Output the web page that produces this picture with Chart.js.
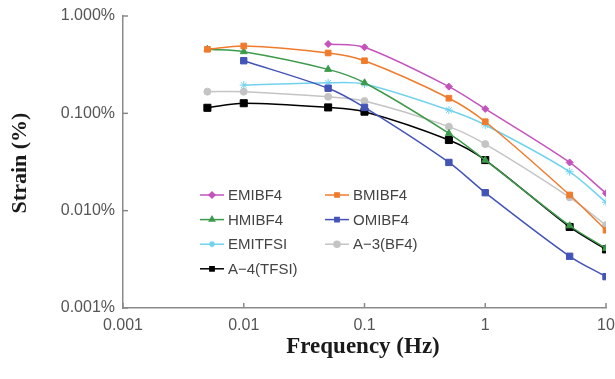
<!DOCTYPE html>
<html>
<head>
<meta charset="utf-8">
<script src="https://cdn.jsdelivr.net/npm/chart.js@4/dist/chart.umd.min.js"></script>
<style>
  html, body { margin: 0; padding: 0; background: #fff; }
  #wrap { width: 615px; height: 379px; }
</style>
</head>
<body>
<div id="wrap"><canvas id="myChart" width="615" height="379"></canvas></div>
<script>
// frequencies (Hz) and strain (%)
const frequencies = [0.005, 0.01, 0.05, 0.1, 0.5, 1, 5, 10];

const emibf4  = [null, null, 0.515, 0.477, 0.188, 0.111, 0.0313, 0.0151];
const bmibf4  = [0.455, 0.492, 0.417, 0.347, 0.143, 0.082, 0.0145, 0.0063];
const hmibf4  = [0.455, 0.43, 0.283, 0.206, 0.0622, 0.033, 0.0070, 0.0041];
const omibf4  = [null, 0.347, 0.181, 0.115, 0.0313, 0.0153, 0.0034, 0.0021];
const emitfsi = [null, 0.195, 0.206, 0.200, 0.108, 0.0759, 0.0251, 0.0122];
const a3bf4   = [0.167, 0.167, 0.148, 0.134, 0.073, 0.0483, 0.0137, 0.0071];
const a4tfsi  = [0.114, 0.127, 0.115, 0.104, 0.0532, 0.0331, 0.0068, 0.0040];

const xTickValues = [0.001, 0.01, 0.1, 1, 10];
const xTickLabels = ['0.001', '0.01', '0.1', '1', '10'];
const yTickValues = [0.001, 0.01, 0.1, 1];
const yTickLabels = ['0.001%', '0.010%', '0.100%', '1.000%'];

function toPoints(values) {
    return frequencies.map((f, i) => ({ x: f, y: values[i] })).filter(p => p.y !== null);
}

function series(label, values, color, style, radius) {
    return {
        label: label,
        data: toPoints(values),
        borderColor: color,
        backgroundColor: color,
        pointStyle: style,
        pointRadius: radius,
        pointBorderWidth: 1,
        borderWidth: 1.5,
        tension: 0.3,
        fill: false
    };
}

const datasets = [
    series('EMIBF4', emibf4, '#c553bd', 'rectRot', 3.5),
    series('BMIBF4', bmibf4, '#f07b2c', 'rect', 4),
    series('HMIBF4', hmibf4, '#3d9a4b', 'triangle', 4),
    series('OMIBF4', omibf4, '#4354b6', 'rect', 4.5),
    series('EMITFSI', emitfsi, '#72d2ee', 'star', 4),
    series('A\u22123(BF4)', a3bf4, '#c4c4c4', 'circle', 3.5),
    series('A\u22124(TFSI)', a4tfsi, '#000000', 'rect', 5)
];

// inward ticks, axis titles and the two-column legend
const decorations = {
    id: 'decorations',
    afterDraw(chart) {
        const ctx = chart.ctx;
        const area = chart.chartArea;
        const xs = chart.scales.x;
        const ys = chart.scales.y;
        ctx.save();
        ctx.strokeStyle = '#8a8a8a';
        ctx.lineWidth = 1.5;
        xTickValues.forEach(v => {
            const px = xs.getPixelForValue(v);
            ctx.beginPath();
            ctx.moveTo(px, area.bottom);
            ctx.lineTo(px, area.bottom - 5);
            ctx.stroke();
        });
        yTickValues.forEach(v => {
            const py = ys.getPixelForValue(v);
            ctx.beginPath();
            ctx.moveTo(area.left, py);
            ctx.lineTo(area.left + 5, py);
            ctx.stroke();
        });

        ctx.fillStyle = '#1a1a1a';
        ctx.textAlign = 'center';
        ctx.textBaseline = 'middle';
        ctx.font = 'bold 23px "Liberation Serif"';
        ctx.fillText('Frequency (Hz)', 363, 347);
        ctx.font = 'bold 22px "Liberation Serif"';
        ctx.translate(20, 163);
        ctx.rotate(-Math.PI / 2);
        ctx.fillText('Strain (%)', 0, 0);
        ctx.restore();

        // legend
        ctx.save();
        ctx.font = '15px "Liberation Sans"';
        ctx.textAlign = 'left';
        ctx.textBaseline = 'middle';
        const cols = [200, 325];
        chart.data.datasets.forEach((ds, i) => {
            const x0 = cols[i % 2];
            const y0 = 195 + Math.floor(i / 2) * 24.6;
            ctx.strokeStyle = ds.borderColor;
            ctx.lineWidth = 1.5;
            ctx.beginPath();
            ctx.moveTo(x0, y0);
            ctx.lineTo(x0 + 24, y0);
            ctx.stroke();
            Chart.helpers.drawPoint(ctx, {
                pointStyle: ds.pointStyle,
                radius: 3,
                borderWidth: 1,
                rotation: 0
            }, x0 + 12, y0);
            ctx.fillStyle = ds.borderColor;
            ctx.fill();
            ctx.fillStyle = '#444';
            ctx.fillText(ds.label, x0 + 28, y0 + 1);
        });
        ctx.restore();
    }
};

const ctx = document.getElementById('myChart').getContext('2d');
new Chart(ctx, {
    type: 'line',
    data: { datasets: datasets },
    options: {
        responsive: false,
        animation: false,
        layout: { padding: { top: 16, right: 9, left: 0, bottom: 0 } },
        plugins: {
            legend: { display: false },
            tooltip: { enabled: false }
        },
        scales: {
            x: {
                type: 'logarithmic',
                min: 0.001,
                max: 10,
                afterFit: scale => {
                    scale.height = 71;
                    scale.paddingLeft = 0;
                    scale.paddingRight = 0;
                },
                afterBuildTicks: scale => { scale.ticks = xTickValues.map(v => ({ value: v })); },
                grid: { display: false, drawTicks: false },
                border: { display: true, color: '#8a8a8a', width: 1.5 },
                ticks: {
                    padding: 8,
                    color: '#555',
                    font: { family: 'Liberation Sans', size: 16 },
                    maxRotation: 0,
                    callback: (value) => xTickLabels[xTickValues.indexOf(value)]
                }
            },
            y: {
                type: 'logarithmic',
                min: 0.001,
                max: 1,
                afterFit: scale => {
                    scale.width = 123;
                    scale.paddingTop = 0;
                    scale.paddingBottom = 0;
                },
                afterBuildTicks: scale => { scale.ticks = yTickValues.map(v => ({ value: v })); },
                grid: { display: false, drawTicks: false },
                border: { display: true, color: '#8a8a8a', width: 1.5 },
                ticks: {
                    padding: 8,
                    color: '#555',
                    font: { family: 'Liberation Sans', size: 16 },
                    callback: (value) => yTickLabels[yTickValues.indexOf(value)]
                }
            }
        }
    },
    plugins: [decorations]
});
</script>
</body>
</html>
